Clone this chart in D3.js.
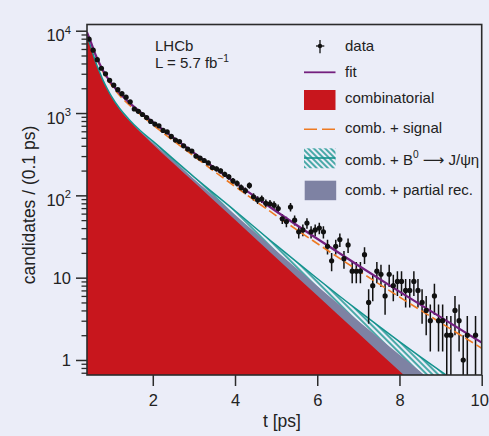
<!DOCTYPE html>
<html>
<head>
<meta charset="utf-8">
<script src="https://cdn.jsdelivr.net/npm/d3@7"></script>
<style>
  html, body { margin: 0; padding: 0; background: #ebedf8; }
  svg { display: block; font-family: "Liberation Sans", Arial, sans-serif; }
</style>
</head>
<body>
<svg id="chart" width="489" height="436"></svg>
<script>
// Decay-time distribution: candidates per 0.1 ps bin (bin centres in ps)
const binTimes = [
  0.45, 0.55, 0.65, 0.75, 0.85, 0.95, 1.05, 1.15, 1.25, 1.35,
  1.45, 1.55, 1.65, 1.75, 1.85, 1.95, 2.05, 2.15, 2.25, 2.35,
  2.45, 2.55, 2.65, 2.75, 2.85, 2.95, 3.05, 3.15, 3.25, 3.35,
  3.45, 3.55, 3.65, 3.75, 3.85, 3.95, 4.05, 4.15, 4.25, 4.35,
  4.45, 4.55, 4.65, 4.75, 4.85, 4.95, 5.05, 5.15, 5.25, 5.35,
  5.45, 5.55, 5.65, 5.75, 5.85, 5.95, 6.05, 6.15, 6.25, 6.35,
  6.45, 6.55, 6.65, 6.75, 6.85, 6.95, 7.05, 7.15, 7.25, 7.35,
  7.45, 7.55, 7.65, 7.75, 7.85, 7.95, 8.05, 8.15, 8.25, 8.35,
  8.45, 8.55, 8.65, 8.75, 8.85, 8.95, 9.05, 9.15, 9.25, 9.35,
  9.45, 9.55, 9.65, 9.75, 9.85, 9.95
];
const candidates = [
  7900, 5800, 4450, 3500, 3000, 2500, 2180, 1920, 1720, 1560,
  1370, 1120, 1050, 960, 880, 790, 735, 700, 615, 590,
  520, 470, 450, 400, 365, 345, 300, 283, 265, 248,
  218, 210, 198, 180, 168, 150, 140, 124, 114, 132,
  96, 88, 90, 80, 79, 76, 69, 52, 48, 72,
  50, 36, 38, 46, 36, 38, 40, 36, 24, 16,
  24, 29, 17, 25, 12, 12, 12, 19, 5, 8,
  12, 11, 6, 11, 8, 9, 9, 7, 7, 9,
  7, 5, 4, 3, 6, 3, 3, 2, 2, 4,
  3, 1, 2, 0, 2, 0
];

// Fit projections, sampled in decay time (ps)
const curveTimes    = [0.4, 0.5, 0.6, 0.7, 0.8, 0.9, 1.0, 1.2, 1.4, 1.7, 2.0, 3, 4, 5, 6, 7, 8, 9, 10];
const combinatorial = [8510, 6170, 4270, 3160, 2400, 1905, 1550, 1096, 832, 583, 417, 144.9, 50.4, 17.5, 6.08, 2.11, 0.734, 0.255, 0.0887];
const combPartial   = [8560, 6210, 4300, 3185, 2422, 1925, 1568, 1112, 846, 596, 438, 158, 58.3, 21.3, 7.90, 2.98, 1.154, 0.457, 0.186];
const combEta       = [8600, 6245, 4330, 3210, 2445, 1945, 1586, 1128, 861, 609, 455, 168, 65.0, 24.8, 9.77, 3.97, 1.674, 0.731, 0.330];
const combSignal    = [9416, 7015, 5059, 3898, 3089, 2549, 2151, 1621, 1290, 956, 721, 299, 128.2, 56.8, 25.98, 12.18, 5.83, 2.84, 1.39];
const fitTotal      = [9593, 7180, 5213, 4042, 3223, 2674, 2268, 1722, 1378, 1028, 779, 328, 142.8, 64.1, 29.7, 14.04, 6.77, 3.32, 1.63];

// Axis ticks and labels
const xTicks = [2, 4, 6, 8, 10];
const xTickLabels = ["2", "4", "6", "8", "10"];
const yMajorTicks = [1, 10, 100, 1000, 10000];
const yTickBase = ["1", "10", "10", "10", "10"];
const yTickExp  = ["", "", "2", "3", "4"];
const yMinorTicks = [0.7, 0.8, 0.9,
  2, 3, 4, 5, 6, 7, 8, 9,
  20, 30, 40, 50, 60, 70, 80, 90,
  200, 300, 400, 500, 600, 700, 800, 900,
  2000, 3000, 4000, 5000, 6000, 7000, 8000, 9000];

const colors = {
  bg: "#ebedf8",
  ink: "#222222",
  frame: "#2b2b2b",
  comb: "#c8161d",
  partial: "#7e82a3",
  eta: "#14938e",
  signal: "#ee7a22",
  fit: "#74207f",
  data: "#111111"
};

const svg = d3.select("#chart");
const W = 489, H = 436;
const plot = { left: 87, right: 481.7, top: 24.5, bottom: 375 };

svg.append("rect").attr("width", W).attr("height", H).attr("fill", colors.bg);

const x = d3.scaleLinear().domain([0.4, 10]).range([plot.left, plot.right]);
const y = d3.scaleLog().domain([0.657, 11900]).range([plot.bottom, plot.top]);

const defs = svg.append("defs");
defs.append("clipPath").attr("id", "plotClip")
  .append("rect")
  .attr("x", plot.left).attr("y", plot.top)
  .attr("width", plot.right - plot.left).attr("height", plot.bottom - plot.top);

const hatch = defs.append("pattern")
  .attr("id", "etaHatch")
  .attr("patternUnits", "userSpaceOnUse")
  .attr("width", 4).attr("height", 4)
  .attr("patternTransform", "rotate(-45)");
hatch.append("line")
  .attr("x1", 1).attr("y1", 0).attr("x2", 1).attr("y2", 4)
  .attr("stroke", colors.eta).attr("stroke-width", 1.5);

const g = svg.append("g").attr("clip-path", "url(#plotClip)");

const curvePts = vals => curveTimes.map((t, i) => [t, vals[i]]);
const area = d3.area()
  .x(d => x(d[0]))
  .y0(plot.bottom)
  .y1(d => y(d[1]))
  .curve(d3.curveMonotoneX);
const line = d3.line()
  .x(d => x(d[0]))
  .y(d => y(d[1]))
  .curve(d3.curveMonotoneX);

// Stacked background components
g.append("path").attr("d", area(curvePts(combEta))).attr("fill", "url(#etaHatch)");
g.append("path").attr("d", area(curvePts(combPartial))).attr("fill", colors.partial);
g.append("path").attr("d", area(curvePts(combinatorial))).attr("fill", colors.comb);
g.append("path").attr("d", line(curvePts(combEta)))
  .attr("fill", "none").attr("stroke", colors.eta).attr("stroke-width", 1.5);

// Data error bars (Poisson)
const points = binTimes.map((t, i) => ({ t, n: candidates[i] })).filter(d => d.n > 0);
const yMin = y.domain()[0];
const bars = g.append("g").attr("stroke", colors.data).attr("stroke-width", 1.5);
points.forEach(d => {
  const err = Math.sqrt(d.n);
  const lo = Math.max(d.n - err, yMin * 0.5);
  bars.append("line")
    .attr("x1", x(d.t)).attr("x2", x(d.t))
    .attr("y1", y(lo)).attr("y2", y(d.n + err));
  bars.append("line")
    .attr("x1", x(d.t - 0.05)).attr("x2", x(d.t + 0.05))
    .attr("y1", y(d.n)).attr("y2", y(d.n));
});

// Fit curves
g.append("path").attr("d", line(curvePts(combSignal)))
  .attr("fill", "none").attr("stroke", colors.signal).attr("stroke-width", 1.6)
  .attr("stroke-dasharray", "9,4");
g.append("path").attr("d", line(curvePts(fitTotal)))
  .attr("fill", "none").attr("stroke", colors.fit).attr("stroke-width", 2.2);

// Data markers
g.append("g").selectAll("circle").data(points).join("circle")
  .attr("cx", d => x(d.t)).attr("cy", d => y(d.n)).attr("r", 2.6)
  .attr("fill", colors.data);

// Frame
svg.append("rect")
  .attr("x", plot.left).attr("y", plot.top)
  .attr("width", plot.right - plot.left).attr("height", plot.bottom - plot.top)
  .attr("fill", "none").attr("stroke", colors.frame).attr("stroke-width", 1.6);

// X axis
const xAxis = svg.append("g")
  .attr("transform", `translate(0,${plot.bottom})`)
  .call(d3.axisBottom(x).tickValues(xTicks).tickSize(11).tickPadding(8)
    .tickFormat((d, i) => xTickLabels[i]));
xAxis.select(".domain").remove();
xAxis.selectAll(".tick line").attr("stroke", colors.frame).attr("stroke-width", 1.5);
xAxis.selectAll(".tick text")
  .attr("font-family", "'Liberation Sans', Arial, sans-serif")
  .attr("font-size", 16.5).attr("fill", colors.ink);
// keep the last label inside the canvas edge
xAxis.selectAll(".tick text").filter(d => d === 10).attr("dx", -2.5);

// Y axis: minor then major ticks
const yMinor = svg.append("g")
  .attr("transform", `translate(${plot.left},0)`)
  .call(d3.axisLeft(y).tickValues(yMinorTicks).tickSize(5.5).tickFormat(""));
yMinor.select(".domain").remove();
yMinor.selectAll(".tick line").attr("stroke", colors.frame).attr("stroke-width", 1.3);

const yMajor = svg.append("g")
  .attr("transform", `translate(${plot.left},0)`)
  .call(d3.axisLeft(y).tickValues(yMajorTicks).tickSize(11).tickFormat(""));
yMajor.select(".domain").remove();
yMajor.selectAll(".tick line").attr("stroke", colors.frame).attr("stroke-width", 1.5);

function richText(sel, parts, size) {
  let lift = 0;
  parts.forEach(p => {
    if (!p.text) return;
    const ts = sel.append("tspan").text(p.text);
    if (p.font) ts.attr("font-family", p.font);
    if (p.sup) {
      ts.attr("dy", -size * 0.45).attr("font-size", size * 0.68);
      lift = size * 0.45;
    } else if (lift) {
      ts.attr("dy", lift);
      lift = 0;
    }
  });
}

yMajorTicks.forEach((v, i) => {
  const hasExp = yTickExp[i] !== "";
  const t = svg.append("text")
    .attr("x", 71)
    .attr("y", y(v) + (hasExp ? 10.5 : 6))
    .attr("text-anchor", "end")
    .attr("font-size", 16.5)
    .attr("fill", colors.ink);
  richText(t, [{ text: yTickBase[i] }, { text: yTickExp[i], sup: true }], 16.5);
});

// Axis titles
svg.append("text")
  .attr("x", 282).attr("y", 427)
  .attr("text-anchor", "middle").attr("font-size", 17.5).attr("fill", colors.ink)
  .text("t [ps]");
svg.append("text")
  .attr("transform", `translate(35,205) rotate(-90)`)
  .attr("text-anchor", "middle").attr("font-size", 17.5).attr("fill", colors.ink)
  .text("candidates / (0.1 ps)");

// Experiment label
svg.append("text").attr("x", 155).attr("y", 50.7)
  .attr("font-size", 15).attr("fill", colors.ink).text("LHCb");
const lumi = svg.append("text").attr("x", 155).attr("y", 68.3)
  .attr("font-size", 15).attr("fill", colors.ink);
richText(lumi, [{ text: "L = 5.7 fb" }, { text: "\u22121", sup: true }], 15);

// Legend
const legX = 304, legW = 31.5, legTextX = 345;
const leg = svg.append("g");
// data
leg.append("line").attr("x1", 320).attr("x2", 320).attr("y1", 40).attr("y2", 53.3)
  .attr("stroke", colors.data).attr("stroke-width", 1.3);
leg.append("line").attr("x1", 316).attr("x2", 324.3).attr("y1", 46).attr("y2", 46)
  .attr("stroke", colors.data).attr("stroke-width", 1.3);
leg.append("circle").attr("cx", 320).attr("cy", 46).attr("r", 2.2).attr("fill", colors.data);
// fit
leg.append("line").attr("x1", legX).attr("x2", legX + legW).attr("y1", 72.3).attr("y2", 72.3)
  .attr("stroke", colors.fit).attr("stroke-width", 1.8);
// combinatorial
leg.append("rect").attr("x", legX).attr("y", 90).attr("width", legW).attr("height", 20)
  .attr("fill", colors.comb);
// comb + signal
leg.append("line").attr("x1", legX).attr("x2", legX + legW).attr("y1", 129.3).attr("y2", 129.3)
  .attr("stroke", colors.signal).attr("stroke-width", 1.6).attr("stroke-dasharray", "13,5");
// comb + B0 -> J/psi eta
leg.append("rect").attr("x", legX).attr("y", 148.3).attr("width", legW).attr("height", 20)
  .attr("fill", "url(#etaHatch)");
leg.append("line").attr("x1", legX).attr("x2", legX + legW).attr("y1", 158).attr("y2", 158)
  .attr("stroke", colors.eta).attr("stroke-width", 1.6);
// comb + partial rec.
leg.append("rect").attr("x", legX + 0.7).attr("y", 180.7).attr("width", legW).attr("height", 19.5)
  .attr("fill", colors.partial);

const legendRows = [
  { y: 50.7, parts: [{ text: "data" }] },
  { y: 76.7, parts: [{ text: "fit" }] },
  { y: 102.7, parts: [{ text: "combinatorial" }] },
  { y: 133.3, parts: [{ text: "comb. + signal" }] },
  { y: 165, parts: [{ text: "comb. + B" }, { text: "0", sup: true }, { text: " " },
                    { text: "\u27F6", font: "'DejaVu Sans', sans-serif" }, { text: " J/\u03C8\u03B7" }] },
  { y: 195, parts: [{ text: "comb. + partial rec." }] }
];
legendRows.forEach(r => {
  const t = leg.append("text").attr("x", legTextX).attr("y", r.y)
    .attr("font-size", 15).attr("fill", colors.ink);
  richText(t, r.parts, 15);
});
</script>
</body>
</html>
